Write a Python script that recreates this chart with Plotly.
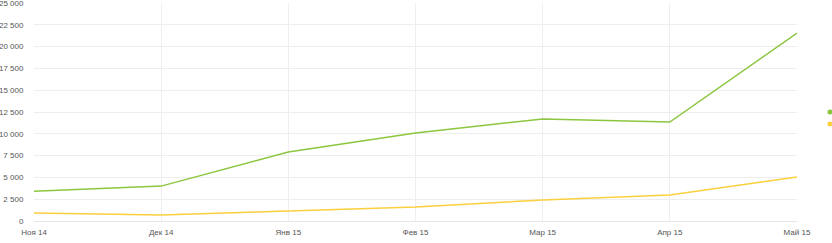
import plotly.graph_objects as go

months = ["Ноя 14", "Дек 14", "Янв 15", "Фев 15", "Мар 15", "Апр 15", "Май 15"]
series_green = [3420, 4000, 7900, 10100, 11700, 11350, 21550]
series_yellow = [920, 700, 1150, 1600, 2400, 2980, 5050]
y_ticks = [0, 2500, 5000, 7500, 10000, 12500, 15000, 17500, 20000, 22500, 25000]
y_tick_labels = ["0", "2 500", "5 000", "7 500", "10 000", "12 500", "15 000",
                 "17 500", "20 000", "22 500", "25 000"]
name_green = "Визиты"
name_yellow = "Посетители"

GREEN = "#8cc63f"
YELLOW = "#fcd03c"

fig = go.Figure()
fig.add_trace(go.Scatter(x=months, y=series_green, mode="lines",
                         line=dict(color=GREEN, width=1.5), showlegend=False,
                         name=name_green))
fig.add_trace(go.Scatter(x=months, y=series_yellow, mode="lines",
                         line=dict(color=YELLOW, width=1.5), showlegend=False,
                         name=name_yellow))
# legend markers (dots)
fig.add_trace(go.Scatter(x=[None], y=[None], mode="markers",
                         marker=dict(color=GREEN, size=5), name=name_green,
                         legend="legend"))
fig.add_trace(go.Scatter(x=[None], y=[None], mode="markers",
                         marker=dict(color=YELLOW, size=5), name=name_yellow,
                         legend="legend2"))

leg_common = dict(x=1.017, xanchor="left", yanchor="middle",
                  font=dict(size=8), bgcolor="rgba(0,0,0,0)")
fig.update_layout(
    width=832, height=243,
    margin=dict(l=34, r=35, t=3, b=22, autoexpand=False),
    paper_bgcolor="white", plot_bgcolor="white",
    font=dict(family="Liberation Sans, Arial, sans-serif", size=8, color="#555555"),
    legend=dict(y=0.5, **leg_common),
    legend2=dict(y=0.445, **leg_common),
    showlegend=True,
)
fig.update_xaxes(
    type="category", categoryorder="array", categoryarray=months,
    range=[0, len(months) - 1],
    showgrid=True, gridcolor="#eeeeee", gridwidth=1,
    showline=False, zeroline=False,
    ticks="outside", ticklen=3, tickcolor="rgba(0,0,0,0)",
    tickfont=dict(size=8, color="#555555"),
)
fig.update_yaxes(
    range=[0, 25000], tickvals=y_ticks, ticktext=y_tick_labels,
    showgrid=True, gridcolor="#eeeeee", gridwidth=1,
    zeroline=True, zerolinecolor="#e6e6e6", zerolinewidth=1,
    showline=False, ticklabeloverflow="allow",
    ticks="outside", ticklen=8, tickcolor="rgba(0,0,0,0)",
    tickfont=dict(size=8, color="#555555"),
)

fig.write_html("out.html")
